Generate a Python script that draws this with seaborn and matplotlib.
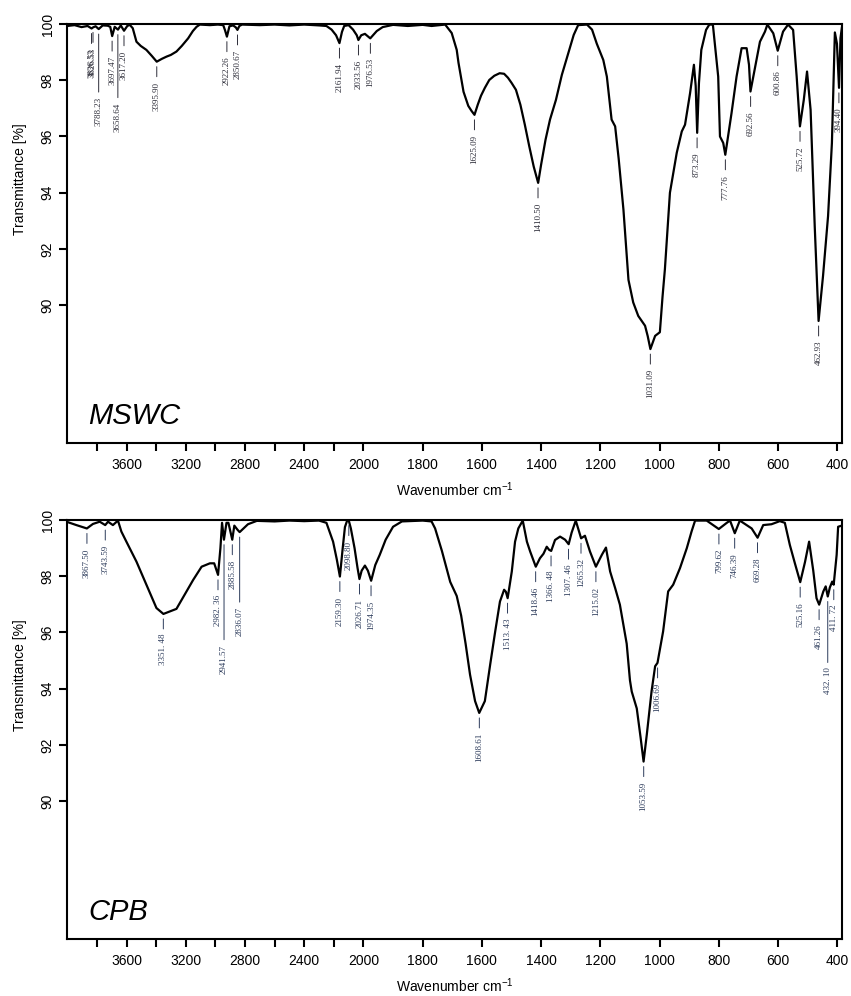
import numpy as np
import matplotlib
matplotlib.use("Agg")
import matplotlib.pyplot as plt
import seaborn as sns

# MSWC spectrum (wavenumber, transmittance)
top_wn = [4000, 3951, 3904, 3863, 3836, 3826, 3809, 3788, 3761, 3728, 3710, 3697, 3680, 3658, 3639,
          3617, 3595, 3578, 3558, 3533, 3504, 3466, 3430, 3396, 3362, 3330, 3301, 3263, 3227, 3184,
          3152, 3127, 3105, 3037, 2983, 2947, 2935, 2922, 2905, 2880, 2862, 2851, 2838, 2820, 2700,
          2600, 2500, 2400, 2300, 2250, 2215, 2185, 2162, 2145, 2130, 2100, 2070, 2045, 2034, 2015,
          1995, 1977, 1955, 1935, 1900, 1850, 1800, 1770, 1724, 1702, 1685, 1679, 1662, 1646, 1635,
          1625, 1614, 1603, 1590, 1575, 1558, 1540, 1525, 1512, 1500, 1485, 1470, 1455, 1440, 1425,
          1410, 1400, 1385, 1370, 1350, 1330, 1310, 1290, 1275, 1245, 1228, 1212, 1190, 1178, 1162,
          1150, 1138, 1122, 1105, 1089, 1072, 1049, 1040, 1031, 1015, 999, 990, 982, 965, 942,
          925, 914, 897, 884, 878, 873, 867, 859, 843, 832, 820, 802, 796, 785, 778,
          757, 740, 723, 706, 698, 693, 678, 661, 644, 636, 616, 601, 583, 566, 549,
          537, 526, 513, 502, 490, 476, 463, 448, 431, 418, 408, 401, 394, 389, 384]
top_t = [99.93, 99.96, 99.89, 99.93, 99.84, 99.88, 99.92, 99.82, 99.95, 99.94, 99.9, 99.57, 99.9, 99.8, 99.95,
         99.76, 99.93, 99.97, 99.85, 99.37, 99.22, 99.08, 98.87, 98.66, 98.76, 98.84, 98.9, 99.02, 99.22, 99.49,
         99.75, 99.9, 99.98, 99.96, 99.98, 99.96, 99.78, 99.55, 99.92, 99.95, 99.88, 99.79, 99.93, 99.98, 99.96,
         99.98, 99.95, 99.98, 99.95, 99.93, 99.8, 99.6, 99.32, 99.72, 99.93, 99.96, 99.8, 99.6, 99.43, 99.6,
         99.65, 99.49, 99.75, 99.89, 99.97, 99.93, 99.97, 99.93, 99.98, 99.68, 99.08, 98.62, 97.59, 97.09, 96.91,
         96.77, 97.13, 97.45, 97.73, 98.01, 98.16, 98.25, 98.23, 98.09, 97.91, 97.66, 97.13, 96.42, 95.65, 94.93,
         94.35, 95.0, 95.89, 96.6, 97.3, 98.19, 98.9, 99.61, 99.96, 99.98, 99.8, 99.3, 98.72, 98.13, 96.6,
         96.36, 95.2, 93.4, 90.9, 90.1, 89.62, 89.27, 88.9, 88.44, 88.91, 89.04, 90.3, 91.28, 94.0, 95.42,
         96.18, 96.42, 97.54, 98.55, 97.8, 96.13, 97.9, 99.08, 99.79, 99.98, 99.98, 98.13, 96.0, 95.77, 95.35,
         96.83, 98.13, 99.14, 99.14, 98.55, 97.6, 98.43, 99.37, 99.73, 99.98, 99.67, 99.05, 99.73, 99.98, 99.79,
         98.13, 96.36, 97.3, 98.31, 96.95, 92.8, 89.44, 91.04, 93.17, 95.77, 99.7, 99.3, 97.73, 99.5, 99.9]

# CPB spectrum
bot_wn = [4000, 3939, 3868, 3827, 3781, 3744, 3725, 3692, 3658, 3635, 3601, 3533, 3466, 3398, 3351,
          3308, 3263, 3195, 3150, 3093, 3037, 3008, 2982, 2966, 2955, 2942, 2925, 2912, 2886, 2872,
          2850, 2836, 2820, 2780, 2720, 2600, 2500, 2400, 2300, 2250, 2205, 2180, 2159, 2140, 2125,
          2110, 2099, 2085, 2060, 2040, 2027, 2012, 1995, 1985, 1974, 1960, 1945, 1925, 1900, 1870,
          1800, 1770, 1758, 1735, 1707, 1685, 1670, 1655, 1640, 1623, 1609, 1590, 1572, 1555, 1539,
          1525, 1519, 1513, 1499, 1488, 1477, 1462, 1448, 1437, 1418, 1404, 1392, 1381, 1373, 1366,
          1353, 1336, 1319, 1307, 1297, 1283, 1265, 1252, 1235, 1215, 1195, 1181, 1167, 1150, 1134,
          1111, 1100, 1094, 1077, 1064, 1054, 1043, 1027, 1015, 1007, 988, 971, 954, 931, 908,
          892, 880, 841, 819, 800, 773, 762, 746, 729, 706, 689, 669, 650, 622, 594,
          577, 560, 543, 525, 509, 495, 481, 470, 461, 447, 439, 432, 425, 417, 412,
          402, 397, 385]
bot_t = [99.93, 99.82, 99.7, 99.86, 99.94, 99.82, 99.94, 99.82, 99.98, 99.59, 99.23, 98.52, 97.7, 96.87, 96.66,
         96.75, 96.84, 97.46, 97.87, 98.34, 98.46, 98.46, 98.05, 99.0, 99.9, 99.3, 99.9, 99.9, 99.3, 99.8,
         99.65, 99.57, 99.65, 99.85, 99.97, 99.95, 99.98, 99.96, 99.98, 99.9, 99.23, 98.6, 97.99, 99.0, 99.75,
         99.98, 99.98, 99.7, 99.0, 98.3, 97.9, 98.2, 98.38, 98.2, 97.84, 98.4, 98.76, 99.3, 99.76, 99.95,
         99.98, 99.95, 99.7, 98.9, 97.8, 97.3, 96.6, 95.6, 94.5, 93.56, 93.14, 93.56, 94.86, 96.04, 97.1,
         97.52, 97.45, 97.22, 98.17, 99.23, 99.7, 99.98, 99.23, 98.88, 98.34, 98.64, 98.8, 99.05, 98.94, 98.9,
         99.29, 99.41, 99.3, 99.14, 99.55, 99.98, 99.35, 99.44, 98.88, 98.34, 98.76, 99.02, 98.17, 97.58, 96.99,
         95.6, 94.3, 93.9, 93.3, 92.26, 91.41, 92.38, 93.91, 94.8, 94.92, 96.04, 97.46, 97.7, 98.29, 99.0,
         99.59, 99.98, 99.98, 99.82, 99.68, 99.9, 99.98, 99.53, 99.98, 99.82, 99.7, 99.37, 99.82, 99.85, 99.96,
         99.9, 99.11, 98.46, 97.79, 98.5, 99.23, 98.2, 97.22, 96.99, 97.46, 97.64, 97.28, 97.6, 97.81, 97.7,
         98.76, 99.76, 99.8]

# peak labels
top_labels = ["3836.53", "3826.53", "3788.23", "3697.47", "3658.64", "3617.20", "3395.90", "2922.26",
              "2850.67", "2161.94", "2033.56", "1976.53", "1625.09", "1410.50", "1031.09", "873.29",
              "777.76", "692.56", "600.86", "525.72", "462.93", "394.40"]
top_peak_wn = [3836.53, 3826.53, 3788.23, 3697.47, 3658.64, 3617.20, 3395.90, 2922.26,
               2850.67, 2161.94, 2033.56, 1976.53, 1625.09, 1410.50, 1031.09, 873.29,
               777.76, 692.56, 600.86, 525.72, 462.93, 394.40]
top_peak_t = [99.84, 99.88, 99.82, 99.57, 99.8, 99.76, 98.66, 99.55,
              99.79, 99.32, 99.43, 99.49, 96.77, 94.35, 88.44, 96.13,
              95.35, 97.6, 99.05, 96.36, 89.44, 97.73]

bot_labels = ["3867.50", "3743.59", "3351. 48", "2982. 36", "2941.57", "2885.58", "2836.07", "2159.30",
              "2098.80", "2026.71", "1974.35", "1608.61", "1513. 43", "1418.46", "1366. 48", "1307. 46",
              "1265.32", "1215.02", "1053.59", "1006.69", "799.62", "746.39", "669.28", "525.16",
              "461.26", "432. 10", "411. 72"]
bot_peak_wn = [3867.50, 3743.59, 3351.48, 2982.36, 2941.57, 2885.58, 2836.07, 2159.30,
               2098.80, 2026.71, 1974.35, 1608.61, 1513.43, 1418.46, 1366.48, 1307.46,
               1265.32, 1215.02, 1053.59, 1006.69, 799.62, 746.39, 669.28, 525.16,
               461.26, 432.10, 411.72]
bot_peak_t = [99.7, 99.82, 96.66, 98.05, 99.3, 99.3, 99.57, 97.99,
              99.98, 97.9, 97.84, 93.14, 97.22, 98.34, 98.9, 99.14,
              99.35, 98.34, 91.41, 94.92, 99.68, 99.53, 99.37, 97.79,
              96.99, 97.28, 97.7]

xticks = list(range(3800, 399, -200))
xtick_labels = ["", "3600", "", "3200", "", "2800", "", "2400", "", "2000",
                "1800", "1600", "1400", "1200", "1000", "800", "600", "400"]
yticks = [90, 92, 94, 96, 98, 100]

sns.set_style("ticks")
plt.rcParams["font.family"] = ["Liberation Sans", "DejaVu Sans"]
plt.rcParams["mathtext.default"] = "regular"
plt.rcParams["text.color"] = "black"
plt.rcParams["axes.labelcolor"] = "black"
plt.rcParams["xtick.color"] = "black"
plt.rcParams["ytick.color"] = "black"


# spectrometer style axis: region above 2000 cm-1 is compressed by half
def fwd(x):
    x = np.asarray(x, dtype=float)
    return np.where(x > 2000, 2000 + (x - 2000) / 2, x)


def inv(y):
    y = np.asarray(y, dtype=float)
    return np.where(y > 2000, 2000 + (y - 2000) * 2, y)


PX = 0.72  # points per pixel at 100 dpi


def mark(ax, wn, t, text, color, lead=15):
    ax.annotate("", xy=(wn, t), xytext=(0, -lead * PX), textcoords="offset points",
                arrowprops=dict(arrowstyle="-", color=color, lw=0.7, shrinkA=0, shrinkB=5 * PX))
    ax.annotate(text, xy=(wn, t), xytext=(0, -(lead + 5) * PX), textcoords="offset points",
                rotation=90, ha="center", va="top", fontsize=6.5,
                family=["Liberation Serif", "DejaVu Serif"], color=color)


fig = plt.figure(figsize=(8.51, 9.96), dpi=100)
ax1 = fig.add_axes([0.0791, 0.5552, 0.9103, 0.4207])
ax2 = fig.add_axes([0.0791, 0.0572, 0.9103, 0.4207])

panels = [
    (ax1, top_wn, top_t, top_labels, top_peak_wn, top_peak_t, "MSWC", "#2c2c38",
     {"3788.23": 63, "3658.64": 68}),
    (ax2, bot_wn, bot_t, bot_labels, bot_peak_wn, bot_peak_t, "CPB", "#2b3a5a",
     {"2941.57": 100, "2836.07": 70, "432. 10": 66}),
]

for ax, wn, t, labels, pwn, pt, name, lcol, longs in panels:
    sns.lineplot(x=wn, y=t, ax=ax, color="black", linewidth=1.6, estimator=None, sort=False)
    ax.set_xscale("function", functions=(fwd, inv))
    ax.set_xlim(4000, 384)
    ax.set_ylim(85.1, 100)
    ax.set_xticks(xticks, labels=xtick_labels)
    ax.set_yticks(yticks)
    ax.tick_params(direction="out", length=6, width=1.5, labelsize=10, pad=5)
    ax.tick_params(axis="y", labelrotation=90, pad=3)
    for lab in ax.get_yticklabels():
        lab.set_va("center")
    for s in ax.spines.values():
        s.set_linewidth(1.5)
        s.set_color("black")
    ax.set_xlabel("Wavenumber cm$^{-1}$", fontsize=10, labelpad=6)
    ax.set_ylabel("Transmittance [%]", fontsize=10)
    ax.yaxis.set_label_coords(-0.052, 0.63)
    ax.text(0.027, 0.045, name, transform=ax.transAxes, fontsize=21, style="italic",
            ha="left", va="baseline", color="black")
    for w, v, s in zip(pwn, pt, labels):
        mark(ax, w, v, s, lcol, lead=longs.get(s, 15))

fig.savefig("out.png", dpi=100)
